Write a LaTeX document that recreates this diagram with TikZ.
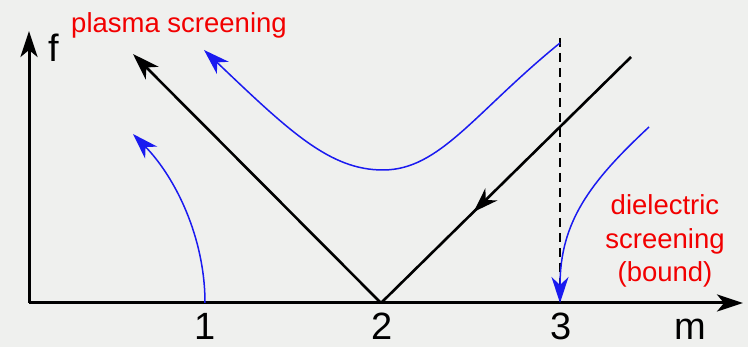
\documentclass[tikz,border=0pt]{standalone}
\usepackage{fontspec}
\setmainfont{Liberation Sans}
\usetikzlibrary{arrows.meta,decorations.markings}
\definecolor{paper}{HTML}{EFF0EE}
\definecolor{wave}{HTML}{1A1AF0}
\definecolor{note}{HTML}{F20000}
\tikzset{
  axis/.style={line width=3pt,-{Stealth[length=26pt,width=17pt,inset=7pt]}},
  branch/.style={black,line width=2.6pt},
  mode/.style={wave,line width=1.5pt,-{Stealth[length=26pt,width=17pt,inset=8pt]}},
  label/.style={note,font=\fontsize{27.5}{33.5}\selectfont},
  tick/.style={anchor=base,inner sep=0pt},
}

\begin{document}
\begin{tikzpicture}[x=1pt,y=1pt,font=\fontsize{38}{44}\selectfont]
  \fill[paper] (0,0) rectangle (748,347);
  \useasboundingbox (0,0) rectangle (748,347);

  \coordinate (O) at (29,44);
  \coordinate (ytip) at (29,316);
  \coordinate (xtip) at (743,44);
  \coordinate (m1) at (205,44);
  \coordinate (m2) at (381,44);
  \coordinate (m3) at (560,44);

  \draw[axis] (O) -- (ytip);
  \draw[axis] (O) -- (xtip);
  \node[anchor=base west] (f) at (45,285) {f};
  \node[tick] (m) at (690,7) {m};
  \node[tick] (n1) at (205,7) {1};
  \node[tick] (n2) at (382,7) {2};
  \node[tick] (n3) at (561,7) {3};

  \coordinate (left) at (133,293);
  \coordinate (right) at (631,290);
  \draw[branch,-{Stealth[length=27pt,width=18pt,inset=8pt]}] (m2) -- (left);
  \draw[branch,postaction={decorate},decoration={markings,
    mark=at position .63 with {\arrow{Stealth[length=25pt,width=17pt,inset=8pt]}}}]
    (right) -- (m2);

  \coordinate (top3) at (560,309);
  \draw[line width=1.5pt,dash pattern=on 9pt off 6pt] (top3) -- (m3);

  \coordinate (low) at (133,213);
  \coordinate (upl) at (204,297);
  \coordinate (upr) at (560,304);
  \coordinate (bot) at (383,177);
  \coordinate (dstart) at (649,220);
  \draw[mode] (m1) .. controls (205,110) and (175,170) .. (low);
  \draw[mode] (upr) .. controls (475,235) and (440,177) .. (bot)
    .. controls (330,177) and (290,215) .. (upl);
  \draw[mode] (dstart) .. controls (590,165) and (560,125) .. (m3);

  \node[label] (plasma) at (179,322) {plasma screening};
  \node[label,align=center] (dielec) at (665,106)
    {dielectric\\screening\\(bound)};
\end{tikzpicture}
\end{document}
